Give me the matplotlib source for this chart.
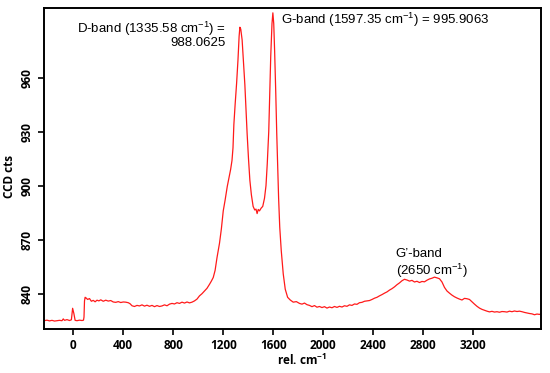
import matplotlib
matplotlib.use("Agg")
import matplotlib.pyplot as plt

# Raman spectrum (rel. cm-1, CCD cts)
shift = [-234, -210, -190, -170, -150, -130, -110, -90, -80, -70, -50, -30, -15, -5, 5, 15, 30, 50, 70, 82, 86, 90, 95,
         100, 115, 130, 145, 160, 175, 190, 205, 220, 240, 260, 280, 300, 320, 340, 360, 380, 400, 420, 440, 455, 470,
         490, 510, 530, 550, 570, 590, 610, 630, 650, 670, 690, 710, 730, 750, 770, 790, 810, 830, 850, 870, 890, 910,
         930, 950, 970, 990, 1010, 1030, 1050, 1070, 1090, 1105, 1120, 1135, 1150, 1160, 1170, 1185, 1200, 1215, 1232,
         1245, 1259, 1270, 1278, 1285, 1295, 1307, 1318, 1327, 1333, 1340, 1351, 1362, 1373, 1382, 1391, 1402, 1413,
         1425, 1439, 1452, 1462, 1471, 1480, 1490, 1503, 1516, 1530, 1542, 1552, 1564, 1572, 1580, 1590, 1597, 1604,
         1611, 1620, 1628, 1636, 1643, 1652, 1664, 1680, 1696, 1715, 1736, 1760, 1785, 1810, 1830, 1850, 1870, 1890,
         1910, 1930, 1950, 1970, 1990, 2010, 2030, 2050, 2070, 2090, 2110, 2130, 2150, 2170, 2190, 2210, 2230, 2250,
         2270, 2290, 2310, 2330, 2350, 2370, 2390, 2410, 2430, 2450, 2470, 2490, 2510, 2530, 2550, 2570, 2590, 2610,
         2630, 2650, 2670, 2690, 2710, 2730, 2750, 2770, 2790, 2810, 2830, 2850, 2870, 2890, 2910, 2930, 2950, 2970,
         2990, 3010, 3030, 3050, 3070, 3090, 3110, 3130, 3150, 3170, 3190, 3210, 3230, 3250, 3270, 3290, 3310, 3330,
         3350, 3370, 3390, 3410, 3430, 3450, 3470, 3490, 3510, 3530, 3550, 3570, 3590, 3610, 3630, 3650, 3670, 3690,
         3710, 3730, 3742]
counts = [825.0, 825.3, 824.9, 825.2, 824.8, 825.0, 825.2, 825.0, 826.0, 825.2, 825.6, 825.1, 825.5, 831.9, 829.0,
          825.2, 825.0, 825.3, 825.1, 825.3, 827.0, 836.0, 838.0,
          837.8, 836.8, 837.3, 835.8, 836.3, 835.5, 836.4, 836.0, 836.6, 835.8, 836.4, 835.9, 836.2, 835.4, 835.2,
          835.6, 835.1, 835.4, 835.3, 835.0, 834.4, 833.3, 832.9, 833.5, 833.2, 833.8, 833.1, 833.6, 833.0, 833.5,
          832.8, 833.4, 832.9, 833.2, 833.8, 833.3, 834.2, 834.6, 834.3, 835.0, 834.6, 835.3, 834.8, 835.4, 834.9,
          835.3, 836.0, 837.0, 838.8, 840.0, 841.5, 843.0, 845.2, 847.0, 849.0, 853.0, 860.0, 864.0, 868.0, 876.0,
          886.0, 892.0, 899.5, 904.0, 909.0, 914.0, 921.0, 934.0, 945.0, 957.0, 970.0, 983.0, 988.0, 987.0, 981.0,
          968.0, 956.0, 942.0, 929.0, 915.0, 903.0, 895.0, 888.5, 886.5, 887.0, 884.5, 886.8, 886.0, 887.5, 888.5,
          893.0, 900.0, 912.0, 930.0, 950.0, 972.0, 990.0, 996.0, 990.0, 975.0, 952.0, 929.0, 910.0, 893.0, 877.0,
          864.0, 851.0, 842.5, 838.0, 836.5, 835.3, 835.6, 834.6, 834.2, 834.8, 833.9, 833.5, 832.8, 833.4, 832.5,
          832.9, 832.3, 832.8, 832.0, 832.6, 832.2, 832.9, 832.4, 833.0, 832.6, 833.3, 833.0, 833.8, 833.5, 834.3,
          834.1, 835.0, 835.2, 835.8, 836.0, 836.2, 836.8, 837.5, 838.0, 838.8, 839.5, 840.3, 841.0, 842.0, 842.8,
          843.8, 845.0, 846.0, 847.2, 848.0, 847.6, 847.0, 847.4, 846.5, 846.9, 846.2, 846.8, 846.6, 847.5, 848.2,
          848.6, 849.2, 848.8, 848.3, 846.5, 843.5, 841.5, 840.3, 839.2, 838.3, 837.6, 837.0, 836.5, 837.4, 837.2,
          836.8, 835.5, 834.2, 833.0, 832.0, 831.3, 830.8, 830.3, 829.9, 830.2, 829.8, 830.0, 829.7, 830.1, 830.0,
          829.8, 830.3, 830.0, 830.4, 830.1, 830.3, 830.0, 829.6, 829.3, 829.0, 828.8, 828.3, 828.7, 828.5, 828.8]

x_ticks = [0, 400, 800, 1200, 1600, 2000, 2400, 2800, 3200]
y_ticks = [840, 870, 900, 930, 960]

fig = plt.figure(figsize=(5.5, 3.73), dpi=100)
ax = fig.add_axes([0.08, 0.118, 0.9036, 0.8606])
ax.plot(shift, counts, color="#ff1a1a", lw=0.9)

ax.set_xlim(-234, 3742)
ax.set_ylim(820.4, 998.7)
ax.set_xticks(x_ticks)
ax.set_yticks(y_ticks)
for s in ax.spines.values():
    s.set_linewidth(1.4)
ax.tick_params(direction="out", length=4, width=1.2, labelsize=8.5)
for lab in ax.get_xticklabels() + ax.get_yticklabels():
    lab.set_fontweight("bold")
    lab.set_family("Open Sans")
for lab in ax.get_yticklabels():
    lab.set_rotation(90)
    lab.set_va("center")

fig.text(0.018, 0.528, "CCD cts", rotation=90, ha="center", va="center", fontsize=8.5, fontweight="bold",
         family="Open Sans")
fig.text(0.549, 0.035, r"rel. cm$^{\mathregular{-1}}$", ha="center", va="center", fontsize=8.5, fontweight="bold",
         family="Open Sans")

tf = dict(fontsize=9.5, family="Liberation Sans")
ax.text(1222, 987, r"D-band (1335.58 cm$^{\mathregular{-1}}$) =", ha="right", va="center", **tf)
ax.text(1222, 979.3, "988.0625", ha="right", va="center", **tf)
ax.text(1660, 992, r"G-band (1597.35 cm$^{\mathregular{-1}}$) = 995.9063", ha="left", va="center", **tf)
ax.text(2580, 862, "G’-band", ha="left", va="center", **tf)
ax.text(2580, 852.6, r"(2650 cm$^{\mathregular{-1}}$)", ha="left", va="center", **tf)

fig.savefig("out.png", dpi=100)
